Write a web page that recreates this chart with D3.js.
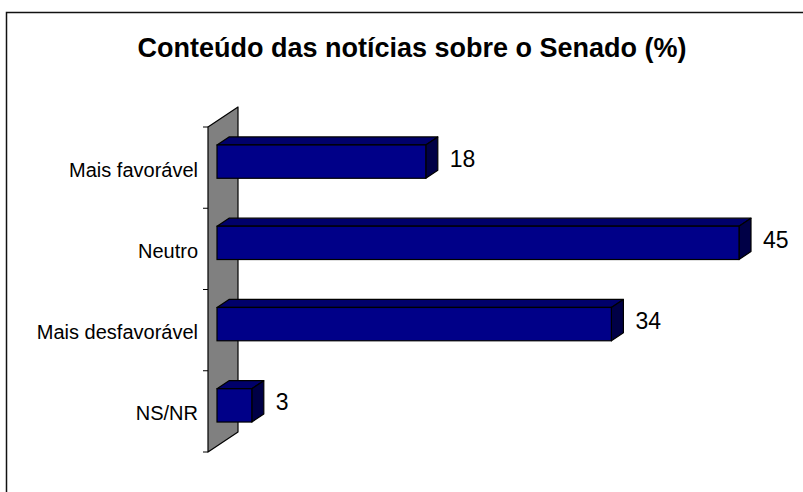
<!DOCTYPE html>
<html>
<head>
<meta charset="utf-8">
<script src="https://cdn.jsdelivr.net/npm/d3@7"></script>
<style>
  html, body { margin: 0; padding: 0; background: #ffffff; }
  svg { display: block; }
  text { font-family: "Liberation Sans", Arial, sans-serif; fill: #000; }
</style>
</head>
<body>
<svg id="chart" width="803" height="492"></svg>
<script>
const title = "Conteúdo das notícias sobre o Senado (%)";
const categories = ["Mais favorável", "Neutro", "Mais desfavorável", "NS/NR"];
const values = [18, 45, 34, 3];
const axisMax = 50;

const svg = d3.select("#chart");
const W = 803, H = 492;

// outer frame (extends past the right/bottom edges)
svg.append("rect")
  .attr("x", 6.5).attr("y", 12.5)
  .attr("width", W + 10).attr("height", H + 10)
  .attr("fill", "#fff").attr("stroke", "#111").attr("stroke-width", 1.5);

svg.append("text")
  .attr("x", 412).attr("y", 57)
  .attr("text-anchor", "middle")
  .attr("font-size", 27).attr("font-weight", "bold")
  .text(title);

// 3D geometry
const wallDX = 30, wallDY = -20;       // wall depth offset
const barFront = 0.3, barBack = 0.7;   // bars' depth fractions
const x = d3.scaleLinear().domain([0, axisMax]).range([208, 788]);
const y = d3.scaleBand().domain(categories).range([127, 452]).padding(0);
const step = y.step();
const barH = step * 0.41;

const x0 = x(0), yTop = y.range()[0], yBot = y.range()[1];

// wall
svg.append("path")
  .attr("d", d3.line()([
    [x0, yTop], [x0 + wallDX, yTop + wallDY],
    [x0 + wallDX, yBot + wallDY], [x0, yBot]
  ]) + "Z")
  .attr("fill", "#808080").attr("stroke", "#000").attr("stroke-width", 1.2)
  .attr("stroke-linejoin", "round");

// ticks at category boundaries
const bounds = d3.range(categories.length + 1).map(i => yTop + i * step);
svg.selectAll(".tick").data(bounds).join("line")
  .attr("x1", x0 - 5).attr("x2", x0)
  .attr("y1", d => d).attr("y2", d => d)
  .attr("stroke", "#000").attr("stroke-width", 1);

// category labels
svg.selectAll(".cat").data(categories).join("text")
  .attr("x", 198)
  .attr("y", d => y(d) + step / 2 + 2)
  .attr("dy", "0.35em")
  .attr("text-anchor", "end")
  .attr("font-size", 20)
  .text(d => d);

// bars
const fdx = wallDX * barFront, fdy = wallDY * barFront;
const bdx = wallDX * (barBack - barFront), bdy = wallDY * (barBack - barFront);
const data = categories.map((c, i) => ({ c, v: values[i] }));

const g = svg.selectAll(".bar").data(data).join("g");
g.each(function (d) {
  const sel = d3.select(this);
  const xl = x(0) + fdx, xr = x(d.v) + fdx;
  const yc = y(d.c) + step / 2 + fdy;
  const yt = yc - barH / 2, yb = yc + barH / 2;
  // top face
  sel.append("path")
    .attr("d", d3.line()([[xl, yt], [xl + bdx, yt + bdy], [xr + bdx, yt + bdy], [xr, yt]]) + "Z")
    .attr("fill", "#00006a").attr("stroke", "#000").attr("stroke-width", 1.2).attr("stroke-linejoin", "round");
  // right face
  sel.append("path")
    .attr("d", d3.line()([[xr, yt], [xr + bdx, yt + bdy], [xr + bdx, yb + bdy], [xr, yb]]) + "Z")
    .attr("fill", "#000046").attr("stroke", "#000").attr("stroke-width", 1.2).attr("stroke-linejoin", "round");
  // front face
  sel.append("rect")
    .attr("x", xl).attr("y", yt).attr("width", xr - xl).attr("height", barH)
    .attr("fill", "#000088").attr("stroke", "#000").attr("stroke-width", 1.2);
  // value label
  sel.append("text")
    .attr("x", xr + bdx + 12)
    .attr("y", yc - 3)
    .attr("dy", "0.35em")
    .attr("font-size", 23)
    .text(d.v);
});
</script>
</body>
</html>
